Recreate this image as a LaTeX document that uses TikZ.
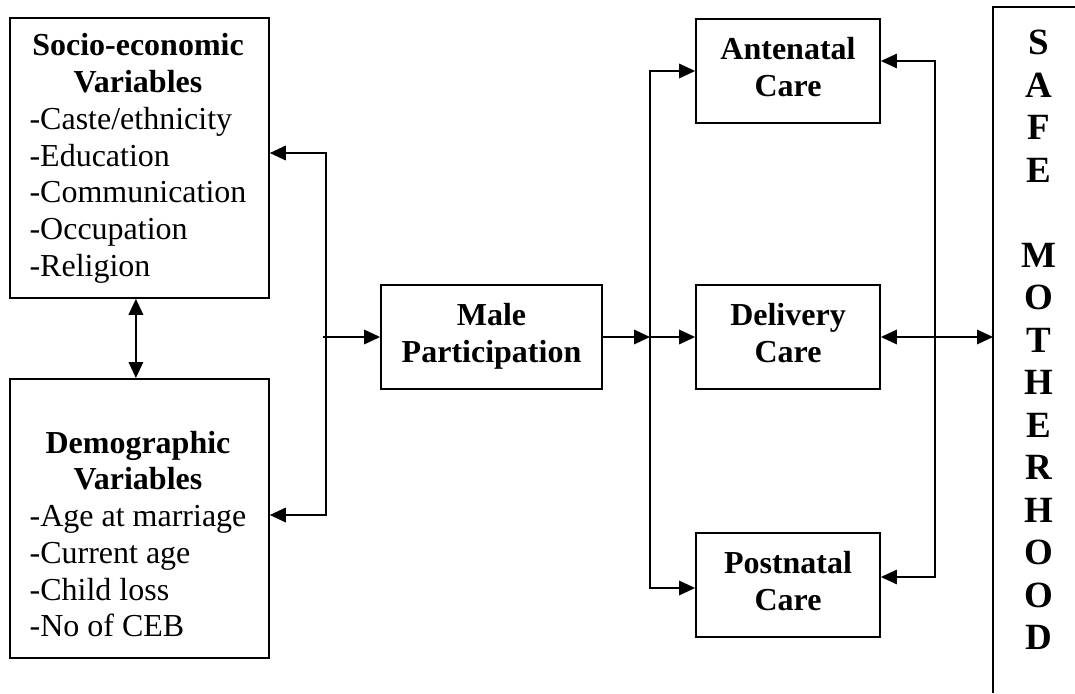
\documentclass[tikz,border=0pt]{standalone}
\usepackage{fontspec}
\setmainfont{Liberation Serif}
\usetikzlibrary{arrows.meta}
\newcommand\twolines[2]{\begin{tabular}{@{}c@{}}#1\\#2\end{tabular}}
\begin{document}
\begin{tikzpicture}[x=1pt,y=-1pt,
  box/.style={draw,line width=1.8pt,inner sep=0pt},
  bigbold/.style={font=\fontsize{32}{36.7}\selectfont\bfseries},
  listtxt/.style={inner sep=0pt,font=\fontsize{32}{36.7}\selectfont},
  conn/.style={line width=1.8pt},
  thinconn/.style={line width=1.3pt},
  tipend/.style={-{Triangle[length=16pt,width=14.5pt]}},
  tipboth/.style={{Triangle[length=16pt,width=14.5pt]}-{Triangle[length=16pt,width=14.5pt]}}]
\useasboundingbox (0,0) rectangle (1075,693);

% left boxes
\node[box,anchor=north west,minimum width=259pt,minimum height=280pt] (socio) at (9,17) {};
\node[listtxt] (sociotext) at (138,158.7) {\begin{tabular}{@{}l@{}}
\multicolumn{1}{@{}c@{}}{\textbf{Socio-economic}}\\
\multicolumn{1}{@{}c@{}}{\textbf{Variables}}\\
-Caste/ethnicity\\
-Education\\
-Communication\\
-Occupation\\
-Religion\end{tabular}};

\node[box,anchor=north west,minimum width=259pt,minimum height=279pt] (demo) at (9,378) {};
\node[listtxt] (demotext) at (138,537.7) {\begin{tabular}{@{}l@{}}
\multicolumn{1}{@{}c@{}}{\textbf{Demographic}}\\
\multicolumn{1}{@{}c@{}}{\textbf{Variables}}\\
-Age at marriage\\
-Current age\\
-Child loss\\
-No of CEB\end{tabular}};

% middle and right boxes
\node[box,bigbold,minimum width=221pt,minimum height=104pt] (male) at (491.5,337) {\twolines{Male}{Participation}};
\node[box,bigbold,minimum width=184pt,minimum height=104pt] (ante) at (788,71) {\twolines{Antenatal}{Care}};
\node[box,bigbold,minimum width=184pt,minimum height=104pt] (deliv) at (788,337) {\twolines{Delivery}{Care}};
\node[box,bigbold,minimum width=184pt,minimum height=104pt] (post) at (788,585) {\twolines{Postnatal}{Care}};

% safe motherhood
\node[anchor=north west,inner sep=0pt,minimum width=82pt,minimum height=686pt] (safe) at (993,7) {};
\draw[line width=1.8pt] (safe.south west) -- (safe.north west) -- (safe.north east);
\node[inner sep=0pt,font=\fontsize{37}{42.5}\selectfont\bfseries] (safetext) at (1038.5,343.5)
  {\begin{tabular}{@{}c@{}}S\\A\\F\\E\\ \\M\\O\\T\\H\\E\\R\\H\\O\\O\\D\end{tabular}};

% connectors
\draw[conn,tipboth] ([xshift=-3.5pt]socio.south) -- ([xshift=-3.5pt]demo.north);

\coordinate (lbtop) at (326,153);
\coordinate (lbbot) at (326,515);
\coordinate (lbmid) at (323,337);
\draw[conn,tipboth] (socio.east |- lbtop) -- (lbtop) -- (lbbot) -- (demo.east |- lbbot);
\draw[conn,tipend] (lbmid) -- (male.west);

\coordinate (split) at (650,337);
\draw[conn,tipend] (male.east) -- (split);
\draw[conn,tipend] (split) -- (deliv.west);

\coordinate (ltop) at (650,71);
\coordinate (lbot) at (650,588);
\draw[conn,tipboth] (ante.west |- ltop) -- (ltop) -- (lbot) -- (post.west |- lbot);

\coordinate (rtop) at (935,61);
\coordinate (rbot) at (935,577);
\draw[thinconn,tipboth] (ante.east |- rtop) -- (rtop) -- (rbot) -- (post.east |- rbot);

\draw[conn,tipboth] (deliv.east) -- (safe.west |- deliv.east);
\end{tikzpicture}
\end{document}
